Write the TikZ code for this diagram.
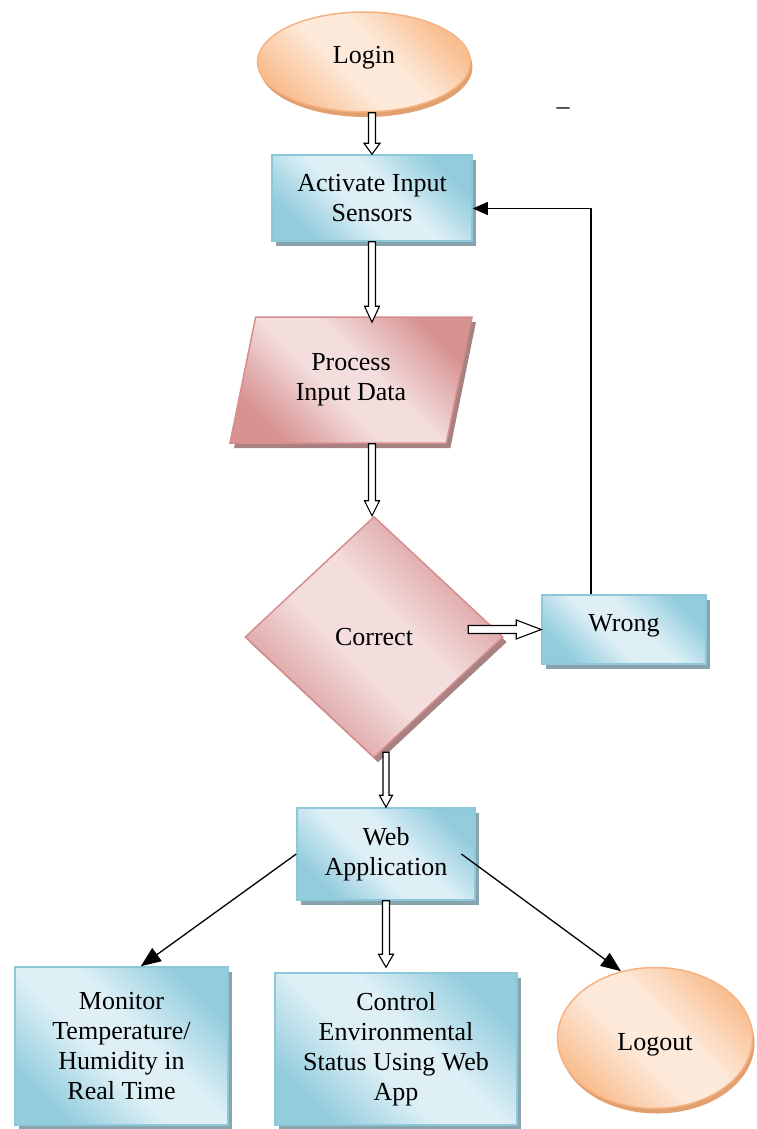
\documentclass[tikz,border=0pt]{standalone}
\usepackage{fontspec}
\setmainfont{Liberation Serif}
\usetikzlibrary{shapes.geometric, shadows, calc, arrows.meta}

% palette
\definecolor{bluedk}{RGB}{146,204,221}
\definecolor{bluelt}{RGB}{222,240,246}
\definecolor{blueedge}{RGB}{140,200,218}
\definecolor{blueshadow}{RGB}{138,164,174}
\definecolor{pinkdk}{RGB}{215,146,145}
\definecolor{pinklt}{RGB}{243,221,221}
\definecolor{pinkedge}{RGB}{214,142,141}
\definecolor{pinkshadow}{RGB}{168,130,130}
\definecolor{orangedk}{RGB}{249,190,143}
\definecolor{orangelt}{RGB}{253,234,219}
\definecolor{orangeedge}{RGB}{246,178,128}
\definecolor{orangeshadow}{RGB}{226,160,112}

% dark-light-dark diagonal fills
\pgfdeclarehorizontalshading{blueshade}{100bp}{color(0bp)=(bluedk); color(25bp)=(bluedk); color(44bp)=(bluelt); color(56bp)=(bluelt); color(75bp)=(bluedk); color(100bp)=(bluedk)}
\pgfdeclarehorizontalshading{pinkshade}{100bp}{color(0bp)=(pinkdk); color(25bp)=(pinkdk); color(44bp)=(pinklt); color(56bp)=(pinklt); color(75bp)=(pinkdk); color(100bp)=(pinkdk)}
\pgfdeclarehorizontalshading{orangeshade}{100bp}{color(0bp)=(orangedk); color(25bp)=(orangedk); color(44bp)=(orangelt); color(56bp)=(orangelt); color(75bp)=(orangedk); color(100bp)=(orangedk)}

\tikzset{
  txt/.style={font=\fontsize{26}{30}\selectfont, align=center},
  bluebox/.style={rectangle, draw=blueedge, line width=1.5pt, shade, shading=blueshade, shading angle=45,
    drop shadow={shadow xshift=4pt, shadow yshift=-5pt, fill=blueshadow, opacity=1}, txt, inner sep=2pt},
  pinkshape/.style={draw=pinkedge, line width=1.5pt, shade, shading=pinkshade, shading angle=45,
    drop shadow={shadow xshift=4pt, shadow yshift=-5pt, fill=pinkshadow, opacity=1}, txt, inner sep=0pt},
  orangeell/.style={ellipse, draw=orangeedge, line width=1.5pt, shade, shading=orangeshade, shading angle=45,
    drop shadow={shadow xshift=2pt, shadow yshift=-5pt, fill=orangeshadow, opacity=1}, txt, inner sep=0pt},
  % block arrow: shaft half width, head half width, head length
  hollow/.style n args={3}{draw=black, fill=white, line width=1.1pt, line join=miter,
    to path={($(\tikztostart)!#1!90:(\tikztotarget)$)
      -- ($(\tikztotarget)!#3!(\tikztostart)!#1!90:(\tikztotarget)$)
      -- ($(\tikztotarget)!#3!(\tikztostart)!#2!90:(\tikztotarget)$)
      -- (\tikztotarget)
      -- ($(\tikztotarget)!#3!(\tikztostart)!#2!-90:(\tikztotarget)$)
      -- ($(\tikztotarget)!#3!(\tikztostart)!#1!-90:(\tikztotarget)$)
      -- ($(\tikztostart)!#1!-90:(\tikztotarget)$) -- cycle}},
  feedback/.style={draw=black, line width=1.2pt, -{Triangle[length=15pt,width=13pt]}},
  pointer/.style={draw=black, line width=1.3pt, -{Triangle[length=20pt,width=16pt]}}
}

\begin{document}
\begin{tikzpicture}[x=1pt, y=-1pt]
\useasboundingbox (0,0) rectangle (756,1129);

% shapes
\node[orangeell, minimum width=213pt, minimum height=100pt,
      label={[txt, yshift=4pt]center:Login}] (login) at (364,62) {};
\node[bluebox, minimum width=200pt, minimum height=86pt] (act) at (372,198) {Activate Input\\Sensors};
\node[pinkshape, trapezium, trapezium left angle=64, trapezium right angle=116, trapezium stretches body,
      minimum width=242pt, minimum height=126pt] (proc) at (351,380) {Process\\Input Data};
\node[pinkshape, diamond, minimum width=258pt, minimum height=241pt] (corr) at (374,637) {Correct};
\node[bluebox, minimum width=164pt, minimum height=69pt,
      label={[txt, yshift=4pt]center:Wrong}] (wrong) at (624,629.5) {};
\node[bluebox, minimum width=178pt, minimum height=92pt] (web) at (386,854) {Web\\Application};
\node[bluebox, minimum width=213pt, minimum height=158pt] (mon) at (121.5,1046) {Monitor\\Temperature/\\Humidity in\\Real Time};
\node[bluebox, minimum width=242pt, minimum height=152pt] (ctrl) at (396,1049) {Control\\Environmental\\Status Using Web\\App};
\node[orangeell, minimum width=195pt, minimum height=141pt,
      label={[txt, yshift=-7pt]center:Logout}] (logout) at (655,1038) {};
\node[txt] (dash) at (563,111) {–};

% connection points
\coordinate (s1) at (act.north |- login.south);
\coordinate (t2) at ($(act.south |- proc.north)+(0,6)$);
\coordinate (s3) at (act.south |- proc.south);
\coordinate (t3) at (act.south |- corr.north);
\coordinate (s4) at ($(wrong.west)+(-73,0)$);
\coordinate (s5) at ($(web.north |- corr.south)+(0,-6)$);
\coordinate (t6) at ($(web.south |- ctrl.north)+(0,-5)$);
\coordinate (wtop) at ($(wrong.north west)!0.3!(wrong.north east)$);
\coordinate (aend) at ($(act.north east)!0.62!(act.south east)$);
\coordinate (mtop) at ($(mon.north west)!0.59!(mon.north east)$);
\coordinate (wr) at ($(web.center)!0.84!(web.east)$);

% block arrows
\draw[hollow={3.5pt}{8pt}{11pt}] (s1) to (act.north);
\draw[hollow={3.5pt}{7.5pt}{16pt}] (act.south) to (t2);
\draw[hollow={3.5pt}{7.5pt}{15pt}] (s3) to (t3);
\draw[hollow={4pt}{9.5pt}{25pt}] (s4) to (wrong.west);
\draw[hollow={3pt}{6.5pt}{12pt}] (s5) to (web.north);
\draw[hollow={3.5pt}{7.5pt}{13pt}] (web.south) to (t6);

% line arrows
\draw[feedback] (wtop) |- (aend);
\draw[pointer] (web.west) -- (mtop);
\draw[pointer] (wr) -- (logout.117);
\end{tikzpicture}
\end{document}
